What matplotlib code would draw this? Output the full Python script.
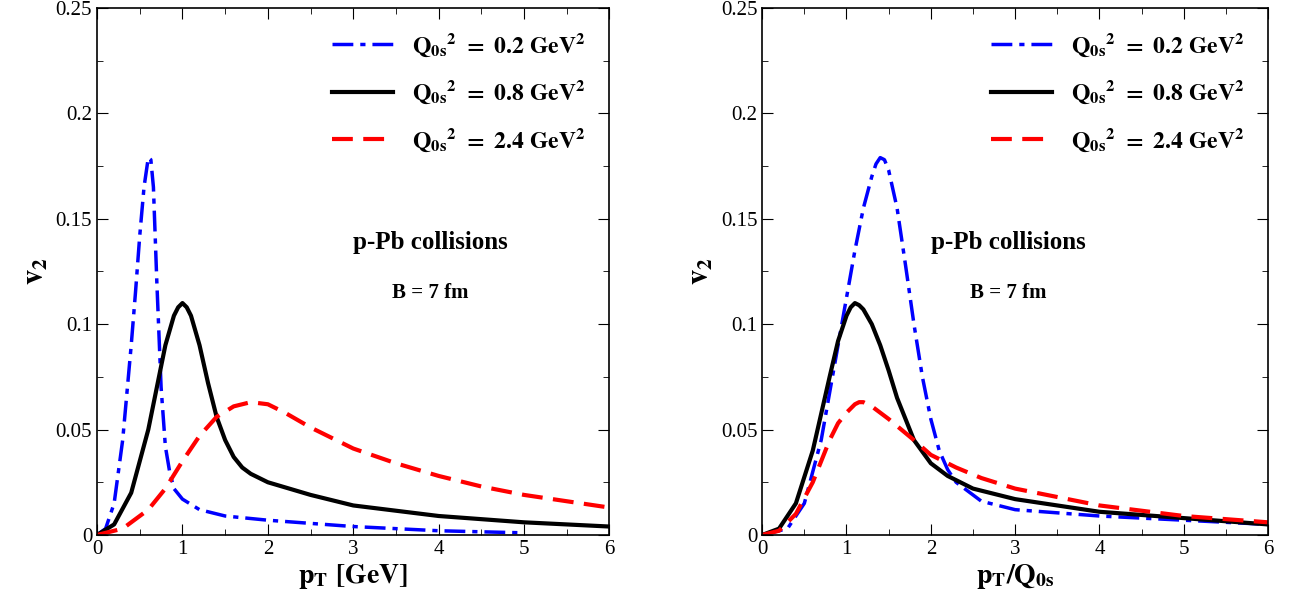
import numpy as np
import matplotlib.pyplot as plt
from matplotlib.ticker import MultipleLocator

plt.rcParams['font.family'] = 'Liberation Serif'
plt.rcParams['font.weight'] = 'bold'
plt.rcParams['mathtext.fontset'] = 'stix'

# left panel: v2 vs pT [GeV]
l_blue_x = [0, 0.1, 0.2, 0.3, 0.4, 0.45, 0.5, 0.55, 0.6, 0.63, 0.66, 0.7, 0.75, 0.8, 0.85, 0.9, 1.0, 1.2, 1.5, 2, 3, 4, 5]
l_blue_y = [0, 0.003, 0.015, 0.045, 0.09, 0.115, 0.142, 0.165, 0.179, 0.178, 0.165, 0.12, 0.07, 0.042, 0.03, 0.022, 0.017, 0.012, 0.009, 0.007, 0.004, 0.002, 0.001]
l_black_x = [0, 0.2, 0.4, 0.6, 0.7, 0.8, 0.9, 0.95, 1.0, 1.05, 1.1, 1.2, 1.3, 1.4, 1.5, 1.6, 1.7, 1.8, 2, 2.5, 3, 4, 5, 6]
l_black_y = [0, 0.005, 0.02, 0.05, 0.07, 0.09, 0.104, 0.108, 0.11, 0.108, 0.104, 0.09, 0.072, 0.056, 0.045, 0.037, 0.032, 0.029, 0.025, 0.019, 0.014, 0.009, 0.006, 0.004]
l_red_x = [0, 0.3, 0.6, 0.8, 1.0, 1.2, 1.4, 1.6, 1.8, 2.0, 2.2, 2.5, 3, 3.5, 4, 4.5, 5, 5.5, 6]
l_red_y = [0, 0.003, 0.012, 0.022, 0.035, 0.047, 0.056, 0.061, 0.063, 0.062, 0.058, 0.051, 0.041, 0.034, 0.028, 0.023, 0.019, 0.016, 0.013]

# right panel: v2 vs pT/Q0s
r_blue_x = [0, 0.3, 0.5, 0.7, 0.9, 1.1, 1.2, 1.3, 1.35, 1.4, 1.45, 1.5, 1.6, 1.7, 1.8, 1.9, 2.0, 2.1, 2.2, 2.3, 2.6, 3, 4, 5, 6]
r_blue_y = [0, 0.003, 0.015, 0.045, 0.09, 0.135, 0.155, 0.17, 0.176, 0.179, 0.178, 0.173, 0.155, 0.128, 0.1, 0.075, 0.055, 0.04, 0.031, 0.025, 0.016, 0.012, 0.009, 0.007, 0.005]
r_black_x = [0, 0.2, 0.4, 0.6, 0.8, 0.9, 1.0, 1.05, 1.1, 1.15, 1.2, 1.3, 1.4, 1.5, 1.6, 1.8, 2.0, 2.2, 2.5, 3, 4, 5, 6]
r_black_y = [0, 0.003, 0.015, 0.04, 0.075, 0.092, 0.104, 0.108, 0.11, 0.109, 0.107, 0.1, 0.09, 0.078, 0.065, 0.045, 0.034, 0.028, 0.022, 0.017, 0.011, 0.008, 0.005]
r_red_x = [0, 0.2, 0.4, 0.6, 0.8, 0.9, 1.0, 1.1, 1.15, 1.2, 1.3, 1.5, 1.8, 2.0, 2.3, 2.6, 3, 4, 5, 6]
r_red_y = [0, 0.002, 0.01, 0.025, 0.045, 0.053, 0.058, 0.062, 0.063, 0.063, 0.061, 0.055, 0.045, 0.038, 0.032, 0.027, 0.022, 0.014, 0.009, 0.006]

labels = [r'$\mathbf{Q_{0s}{}^2\ =\ 0.2\ GeV^2}$',
          r'$\mathbf{Q_{0s}{}^2\ =\ 0.8\ GeV^2}$',
          r'$\mathbf{Q_{0s}{}^2\ =\ 2.4\ GeV^2}$']

fig = plt.figure(figsize=(12.94, 6.10), dpi=100)
ax1 = fig.add_axes([0.075, 0.123, 0.396, 0.864])
ax2 = fig.add_axes([0.589, 0.123, 0.391, 0.864])

panels = [(ax1, l_blue_x, l_blue_y, l_black_x, l_black_y, l_red_x, l_red_y, r'$\mathbf{p_T\ [GeV]}$', 3.9),
          (ax2, r_blue_x, r_blue_y, r_black_x, r_black_y, r_red_x, r_red_y, r'$\mathbf{p_T/Q_{0s}}$', 2.92)]

for ax, bx, by, kx, ky, rx, ry, xl, tx in panels:
    ax.plot(bx, by, color='blue', lw=2.5, ls=(0, (6, 2, 1.5, 2)), label=labels[0])
    ax.plot(kx, ky, color='black', lw=3, label=labels[1])
    ax.plot(rx, ry, color='red', lw=3, ls=(0, (5, 2.5)), label=labels[2])
    ax.set_xlim(0, 6)
    ax.set_ylim(0, 0.25)
    ax.xaxis.set_major_locator(MultipleLocator(1))
    ax.xaxis.set_minor_locator(MultipleLocator(0.5))
    ax.yaxis.set_minor_locator(MultipleLocator(0.025))
    ax.set_yticks([0, 0.05, 0.1, 0.15, 0.2, 0.25])
    ax.set_yticklabels(['0', '0.05', '0.1', '0.15', '0.2', '0.25'])
    ax.tick_params(which='both', direction='in', top=True, right=True, labelsize=15)
    ax.tick_params(which='major', length=8)
    ax.tick_params(which='minor', length=4)
    for lab in ax.get_xticklabels() + ax.get_yticklabels():
        lab.set_fontweight('normal')
    for s in ax.spines.values():
        s.set_linewidth(1.2)
    ax.set_xlabel(xl, fontsize=20, labelpad=2)
    ax.set_ylabel(r'$\mathbf{v_2}$', fontsize=22)
    ax.legend(loc='upper right', frameon=False, fontsize=17, handlelength=2.6,
              labelspacing=0.85, borderaxespad=0.6)
    ax.text(tx, 0.1385, 'p-Pb collisions', fontsize=18, fontweight='bold', ha='center', va='center')
    ax.text(tx, 0.115, 'B = 7 fm', fontsize=15, fontweight='bold', ha='center', va='center')

fig.savefig('out.png', dpi=100)
